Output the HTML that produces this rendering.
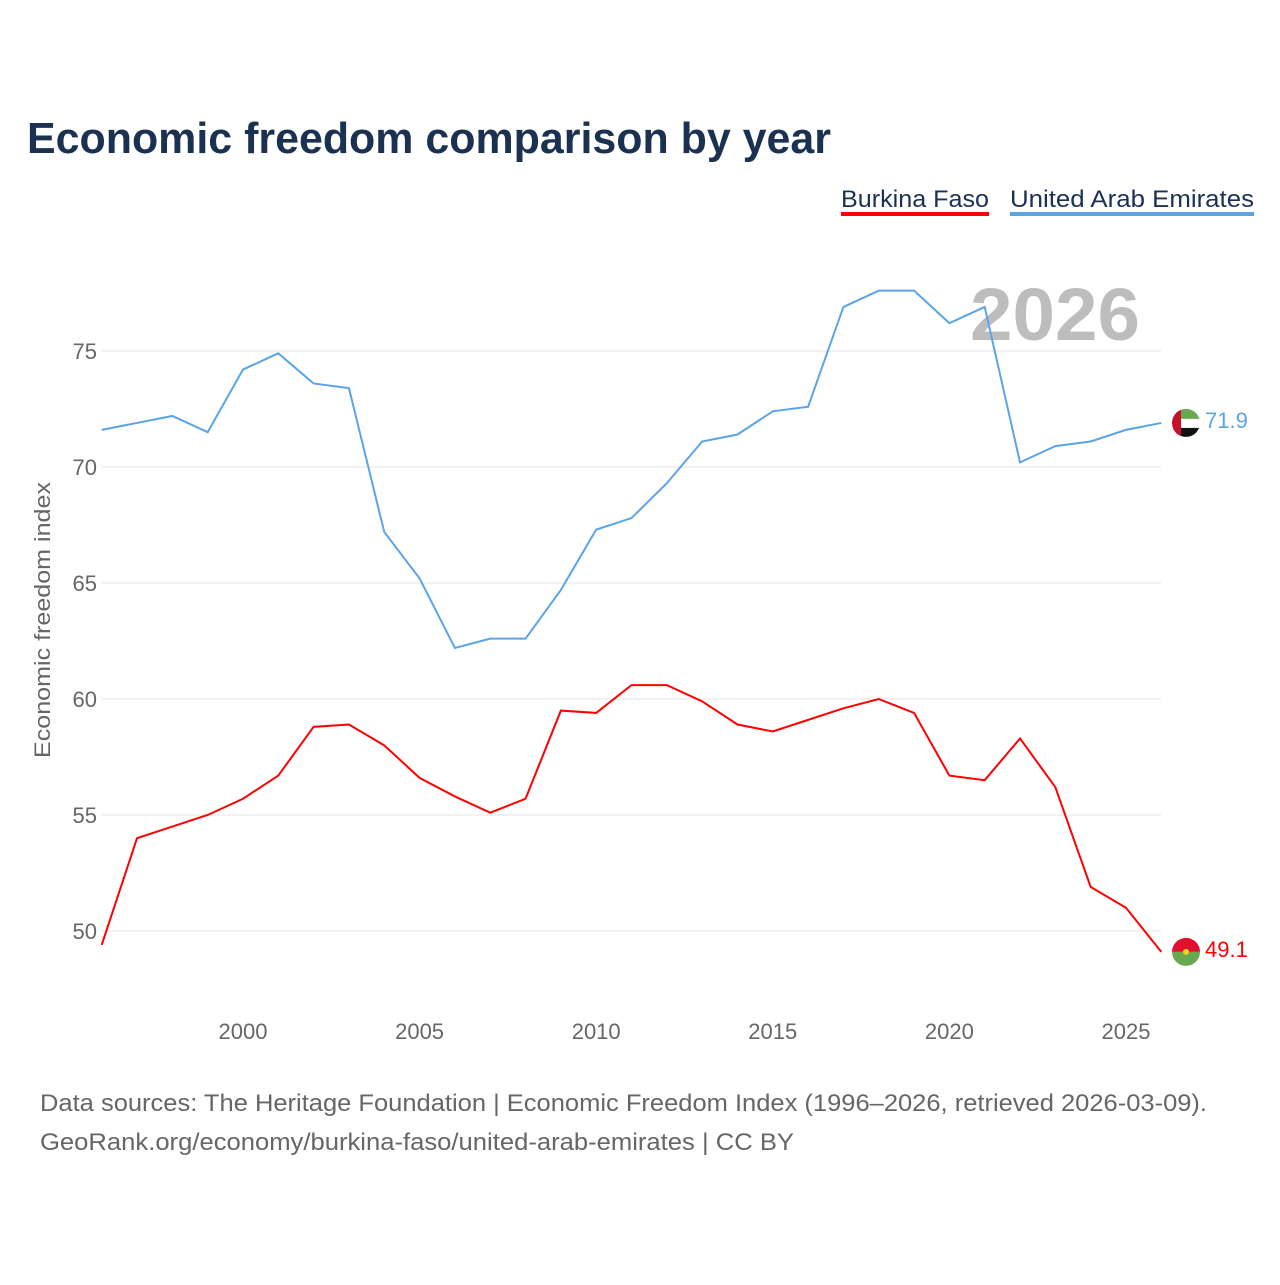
<!DOCTYPE html>
<html><head><meta charset="utf-8">
<style>
body{margin:0;background:#fff;width:1280px;height:1280px;overflow:hidden;font-family:"Liberation Sans",sans-serif}
</style></head><body>
<svg width="1280" height="1280" id="chart" xmlns="http://www.w3.org/2000/svg">
<text x="27" y="153" font-size="44" font-weight="bold" fill="#1b3152" textLength="804" lengthAdjust="spacingAndGlyphs">Economic freedom comparison by year</text>
<g>
<text x="841" y="207" font-size="24" fill="#1b3152" textLength="148" lengthAdjust="spacingAndGlyphs">Burkina Faso</text>
<rect x="841" y="212" width="148" height="4" fill="#ff0000"/>
<text x="1010" y="207" font-size="24" fill="#1b3152" textLength="244" lengthAdjust="spacingAndGlyphs">United Arab Emirates</text>
<rect x="1010" y="212" width="244" height="4" fill="#5ba4e8"/>
</g>
<text x="1140" y="340" font-size="74" font-weight="bold" fill="#bdbdbd" text-anchor="end" textLength="170" lengthAdjust="spacingAndGlyphs">2026</text>
<text transform="translate(50,620) rotate(-90)" font-size="22" fill="#666" text-anchor="middle" textLength="276" lengthAdjust="spacingAndGlyphs">Economic freedom index</text>
<g id="grid"></g><g id="series"></g>
<text x="40" y="1111" font-size="24" fill="#666" textLength="1167" lengthAdjust="spacingAndGlyphs">Data sources: The Heritage Foundation | Economic Freedom Index (1996–2026, retrieved 2026-03-09).</text>
<text x="40" y="1150" font-size="24" fill="#666" textLength="754" lengthAdjust="spacingAndGlyphs">GeoRank.org/economy/burkina-faso/united-arab-emirates | CC BY</text>
</svg>
<script>
const years=[1996,1997,1998,1999,2000,2001,2002,2003,2004,2005,2006,2007,2008,2009,2010,2011,2012,2013,2014,2015,2016,2017,2018,2019,2020,2021,2022,2023,2024,2025,2026];
const uae=[71.6,71.9,72.2,71.5,74.2,74.9,73.6,73.4,67.2,65.2,62.2,62.6,62.6,64.7,67.3,67.8,69.3,71.1,71.4,72.4,72.6,76.9,77.6,77.6,76.2,76.9,70.2,70.9,71.1,71.6,71.9];
const bfa=[49.4,54.0,54.5,55.0,55.7,56.7,58.8,58.9,58.0,56.6,55.8,55.1,55.7,59.5,59.4,60.6,60.6,59.9,58.9,58.6,59.1,59.6,60.0,59.4,56.7,56.5,58.3,56.2,51.9,51.0,49.1];
const yTicks=[50,55,60,65,70,75];
const xTicks=[2000,2005,2010,2015,2020,2025];
const NS="http://www.w3.org/2000/svg";
const x=v=>101.7+(v-1996)*35.32;
const y=v=>467-(v-70)*23.2;
function mk(t,a,p){const e=document.createElementNS(NS,t);for(const k in a)e.setAttribute(k,a[k]);p.appendChild(e);return e;}
const grid=document.getElementById('grid'),ser=document.getElementById('series');
yTicks.forEach(t=>{
 const l=mk('line',{x1:101,x2:1161,y1:y(t),y2:y(t),stroke:'#e6e6e6','stroke-width':1},grid);
 
 
 const tx=mk('text',{x:97,y:y(t)+8,'font-size':22,fill:'#666','text-anchor':'end'},grid);tx.textContent=t;
 
 
});
xTicks.forEach(t=>{
 const tx=mk('text',{x:x(t),y:1039,'font-size':22,fill:'#666','text-anchor':'middle'},grid);tx.textContent=t;
 
 
});
function line(vals,col,name){
 const p=mk('polyline',{points:vals.map((v,i)=>x(years[i])+','+y(v)).join(' '),fill:'none',stroke:col,'stroke-width':2},ser);
 
 
 const last=vals[vals.length-1],cy=y(last);
 const g=mk('g',{},ser);
 
 
 const cp=mk('clipPath',{id:'c'+name},g);mk('circle',{cx:1186,cy:cy,r:14},cp);
 const f=mk('g',{'clip-path':'url(#c'+name+')'},g);
 if(name==='uae'){
  mk('rect',{x:1172,y:cy-14,width:28,height:10,fill:'#6aa84f'},f);
  mk('rect',{x:1172,y:cy-4,width:28,height:9,fill:'#fff'},f);
  mk('rect',{x:1172,y:cy+5,width:28,height:10,fill:'#111'},f);
  mk('rect',{x:1172,y:cy-14,width:9,height:28,fill:'#c8102e'},f);
 }else{
  mk('rect',{x:1172,y:cy-14,width:28,height:14,fill:'#e0102e'},f);
  mk('rect',{x:1172,y:cy,width:28,height:14,fill:'#6aa84f'},f);
  mk('circle',{cx:1186,cy:cy,r:3,fill:'#fcd116'},f);
 }
 const t=mk('text',{x:1205,y:cy+5,'font-size':22,fill:col},ser);t.textContent=last.toFixed(1);
 
 
}
line(uae,'#5ba4e8','uae');
line(bfa,'#ff0000','burkina-faso');
</script>
</body></html>
